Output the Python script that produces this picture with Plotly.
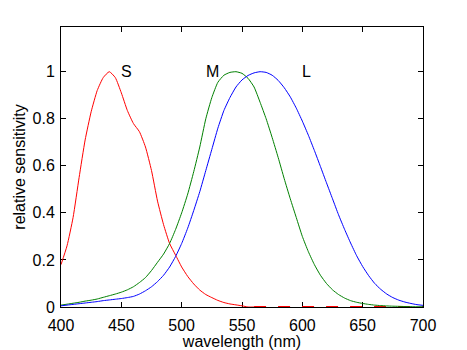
import plotly.graph_objects as go

wavelength = list(range(400, 701, 5))

s_cone = [0.18, 0.26, 0.38, 0.55, 0.71, 0.83, 0.92, 0.975, 1.00, 0.975,
          0.91, 0.835, 0.78, 0.745, 0.68, 0.58, 0.45, 0.35, 0.27, 0.22,
          0.17, 0.13, 0.098, 0.072, 0.053, 0.04, 0.028, 0.019, 0.013, 0.009,
          0.005] + [0.0] * 30

m_cone = [0.008, 0.012, 0.016, 0.02, 0.025, 0.029, 0.034, 0.041, 0.048, 0.055,
          0.063, 0.073, 0.086, 0.104, 0.125, 0.155, 0.19, 0.225, 0.27, 0.33,
          0.40, 0.48, 0.575, 0.68, 0.80, 0.89, 0.955, 0.985, 0.997, 1.0,
          0.993, 0.972, 0.935, 0.87, 0.80, 0.72, 0.635, 0.545, 0.46, 0.38,
          0.30, 0.235, 0.18, 0.135, 0.10, 0.073, 0.053, 0.038, 0.027, 0.02,
          0.015, 0.011, 0.008, 0.006, 0.0045, 0.0035, 0.0028, 0.002, 0.0015, 0.001,
          0.001]

l_cone = [0.005, 0.008, 0.011, 0.014, 0.017, 0.02, 0.023, 0.027, 0.030, 0.033,
          0.036, 0.040, 0.045, 0.055, 0.069, 0.086, 0.108, 0.135, 0.17, 0.215,
          0.27, 0.335, 0.41, 0.49, 0.58, 0.67, 0.76, 0.835, 0.89, 0.935,
          0.965, 0.984, 0.995, 1.0, 0.997, 0.985, 0.963, 0.932, 0.893, 0.845,
          0.79, 0.73, 0.665, 0.597, 0.528, 0.46, 0.392, 0.33, 0.272, 0.218,
          0.172, 0.133, 0.1, 0.075, 0.055, 0.04, 0.029, 0.021, 0.015, 0.01,
          0.007]

labels = ["S", "M", "L"]
label_x = [450, 520, 600]
label_y = [1.0, 1.0, 1.0]

x_ticks = [400, 450, 500, 550, 600, 650, 700]
y_ticks = [0, 0.2, 0.4, 0.6, 0.8, 1.0]
y_ticktext = ["0", "0.2", "0.4", "0.6", "0.8", "1"]

split = wavelength.index(560)

fig = go.Figure()
fig.add_trace(go.Scatter(x=wavelength[:split + 1], y=s_cone[:split + 1], mode="lines",
                         line=dict(color="#ff0000", width=1, shape="spline", smoothing=0.5),
                         showlegend=False))
fig.add_trace(go.Scatter(x=wavelength[split:], y=s_cone[split:], mode="lines",
                         line=dict(color="#ff0000", width=2, dash="12px,12px"), showlegend=False))
fig.add_trace(go.Scatter(x=wavelength, y=m_cone, mode="lines",
                         line=dict(color="#008000", width=1, shape="spline", smoothing=0.5),
                         showlegend=False))
fig.add_trace(go.Scatter(x=wavelength, y=l_cone, mode="lines",
                         line=dict(color="#0000ff", width=1, shape="spline", smoothing=0.5),
                         showlegend=False))

font = dict(family="Liberation Sans, Arial, sans-serif", size=16, color="black")

for t, xx, yy in zip(labels, label_x, label_y):
    fig.add_annotation(x=xx, y=yy, text=t, showarrow=False, xanchor="left", yanchor="middle",
                       xshift=-2, font=font)

fig.update_layout(
    width=467, height=350,
    margin=dict(l=61, r=44, t=27, b=43),
    paper_bgcolor="white", plot_bgcolor="white",
    font=font,
    xaxis=dict(range=[400, 700], tickvals=x_ticks, ticks="inside", ticklen=5, tickcolor="black",
               showline=True, linecolor="black", linewidth=1, mirror="ticks", showgrid=False,
               zeroline=False, layer="below traces", automargin=False, ticklabelstandoff=4,
               title=dict(text="wavelength (nm)", standoff=0, font=font)),
    yaxis=dict(range=[0, 1.19], tickvals=y_ticks, ticktext=y_ticktext, ticks="inside", ticklen=5,
               tickcolor="black", showline=True, linecolor="black", linewidth=1, mirror="ticks",
               showgrid=False, zeroline=False, layer="below traces", automargin=False,
               ticklabelstandoff=2,
               title=dict(text="relative sensitivity", standoff=2, font=font)),
)

fig.write_html("out.html")
